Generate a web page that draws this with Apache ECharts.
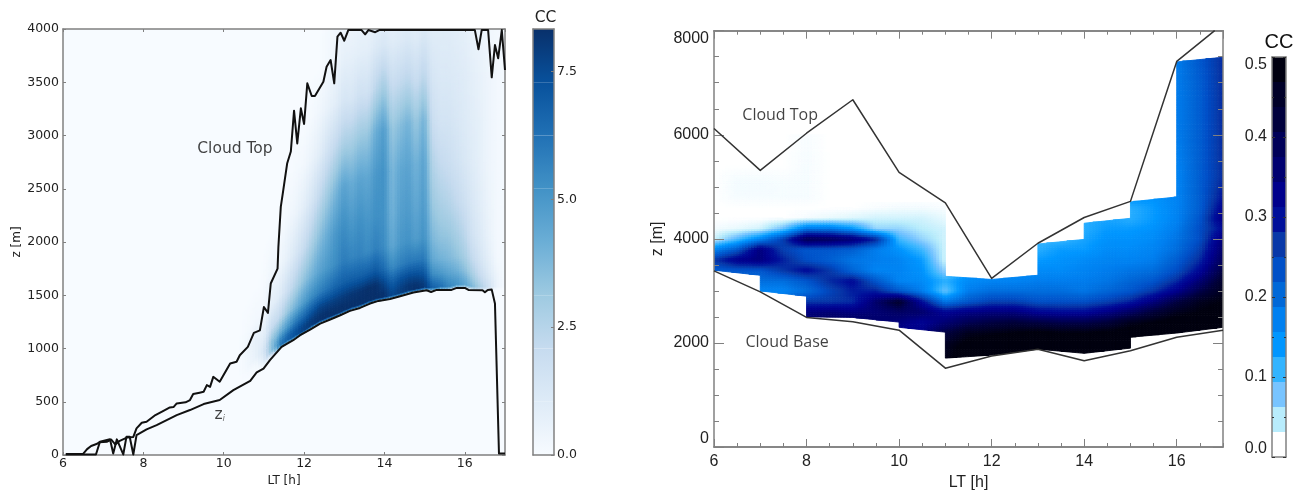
<!DOCTYPE html>
<html><head><meta charset="utf-8">
<style>html,body{margin:0;padding:0;background:#fff}#c{width:1302px;height:491px}</style>
<script src="https://cdn.jsdelivr.net/npm/echarts@6/dist/echarts.min.js"></script>
</head><body><div id="c"></div>
<script>
// ---------- left panel data ----------
const leftCloudTop=[[6.07,10],[6.5,10],[6.6,55],[6.7,85],[6.85,105],[6.9,120],[7.1,125],[7.2,145],[7.3,100],[7.4,130],[7.6,165],[7.75,170],[7.79,172],[7.83,250],[7.96,303],[8.08,312],[8.3,375],[8.5,415],[8.66,447],[8.75,450],[8.83,484],[9.05,495],[9.16,516],[9.24,572],[9.4,585],[9.5,594],[9.58,656],[9.66,640],[9.74,734],[9.9,688],[10.16,860],[10.32,875],[10.4,937],[10.6,1015],[10.75,1147],[10.9,1170],[11.0,1390],[11.1,1335],[11.17,1610],[11.34,1750],[11.36,1950],[11.42,2330],[11.47,2457],[11.58,2740],[11.67,2850],[11.75,3233],[11.83,2926],[11.92,3255],[12,3108],[12.08,3490],[12.19,3371],[12.27,3371],[12.48,3505],[12.56,3646],[12.66,3709],[12.75,3490],[12.83,3928],[12.91,3965],[13,3890],[13.1,3990],[13.43,3990],[13.52,3950],[13.6,3990],[13.77,3970],[13.87,3990],[16.25,3990],[16.34,3810],[16.42,3990],[16.58,3990],[16.67,3546],[16.75,3850],[16.83,3725],[16.92,3990],[17,3615]];
const leftZi=[[6.07,5],[6.82,5],[6.92,125],[7.17,147],[7.25,15],[7.34,147],[7.5,5],[7.58,172],[7.66,172],[7.75,5],[7.83,187],[8.08,240],[8.33,281],[8.58,328],[8.83,375],[9.16,422],[9.5,478],[9.9,516],[10.24,609],[10.66,697],[10.82,775],[10.99,812],[11.15,890],[11.44,1015],[11.73,1078],[11.9,1125],[12.15,1178],[12.4,1234],[12.65,1272],[12.9,1312],[13.14,1353],[13.39,1381],[13.64,1422],[13.85,1447],[14.14,1465],[14.39,1490],[14.72,1525],[15.05,1547],[15.16,1531],[15.3,1550],[15.67,1550],[15.8,1569],[16,1569],[16.09,1550],[16.44,1547],[16.5,1528],[16.57,1550],[16.67,1553],[16.75,1422],[16.85,15],[17,15]];
const leftTimes=[10.4,10.6,10.8,11,11.2,11.4,11.6,11.8,12,12.2,12.4,12.6,12.8,13,13.2,13.4,13.6,13.8,14,14.2,14.4,14.6,14.8,15,15.2,15.4,15.6,15.8,16,16.2,16.4,16.6,16.8,17];
const leftBase=[630,680,770,815,905,1000,1050,1095,1140,1190,1234,1265,1295,1330,1360,1383,1415,1440,1455,1470,1490,1515,1530,1545,1540,1550,1550,1569,1569,1550,1548,1550,1555,1555];
const leftOffsets=[0,30,80,160,300,500,800,1200,1600,2000,2400,2800];
const leftCC=[
[0,0,0,0,0,0,0,0,0,0,0,0],
[0,0,.05,.2,.3,.1,0,0,0,0,0,0],
[0,.05,.2,.6,.7,.2,0,0,0,0,0,0],
[.1,.3,.8,1.3,.8,.2,.05,0,0,0,0,0],
[.2,.5,3.5,3.5,2,.8,.3,0,0,0,0,0],
[2,6,5.5,4,2.2,1,.3,0,0,0,0,0],
[2,6.8,6.5,5,3.2,1.8,.7,.2,0,0,0,0],
[2,7.3,7.2,6,4,2.6,1.3,.4,.1,0,0,0],
[2,7.8,7.7,6.6,4.8,3.4,2,.8,.2,0,0,0],
[2,8,8,7.2,5.4,4,2.8,1.4,.5,.1,0,0],
[2,8.3,8.2,7.7,5.8,4.6,3.6,2.2,.9,.3,0,0],
[2,8.3,8.3,7.8,6.2,5,4.3,3,1.6,.6,.2,.1],
[2,8.3,8.3,7.9,6.6,5.4,5,3.8,2.2,.9,.4,.2],
[2,8.3,8.3,8,6.8,5.9,5.4,4.6,2.8,1.4,.7,.3],
[2,8.3,8.3,8.1,6.8,5.6,5,4.2,2.8,1.3,.7,.3],
[2,8.3,8.3,8.2,6.8,5.7,5.3,4.6,3.2,1.7,.8,.4],
[2,8.3,8.33,8.3,6.8,5.4,5,4.4,3.2,1.6,.8,.4],
[2,8.33,8.33,8.3,7,5.8,5.3,5,4.2,2.4,1.1,.5],
[2,8.3,8.2,7.7,6.4,5.4,5.2,5.2,4.8,3,1.3,.6],
[1.5,7.6,7.4,6.8,5.4,4.4,4,3.8,3.2,2,1,.5],
[1.5,7.9,7.8,7.3,5.8,5,4.7,4.4,3.6,2.2,1.1,.6],
[1.5,8.1,8.1,7.5,6,5.2,4.9,4.6,4,2.4,1.2,.7],
[1.5,8.3,8.2,7.5,6,4.8,4.4,4,3.2,1.9,1,.7],
[1.5,8.1,7.9,7.2,6,5.2,4.9,4.6,4,2.4,1.3,.8],
[1,6.8,6.4,5.4,4.4,3.8,3.2,2.6,1.9,1.4,1,.7],
[1,6.4,5.9,5,4,3.4,2.8,2.1,1.5,1.2,1,.7],
[1,5.6,5.3,4.6,3.8,3.3,2.6,1.9,1.5,1.2,1,.7],
[1,5.2,4.9,4.2,3.4,2.9,2.2,1.6,1.3,1.1,.9,.6],
[.8,4.6,4.3,3.6,2.9,2.4,1.8,1.3,1.1,1,.8,.5],
[.6,3.8,3.4,2.8,2.1,1.6,1.3,1,.9,.8,.6,.4],
[.5,2.8,2.4,1.9,1.4,1.1,.9,.7,.7,.6,.5,.3],
[.3,1.7,1.5,1.1,.8,.6,.5,.4,.4,.4,.3,.2],
[.1,.5,.5,.4,.2,.2,.2,.2,.2,.2,.2,.1],
[0,.1,.1,.1,.1,.1,.1,.1,.1,.1,.1,.05]];
const leftColorStops=['#f7fbff','#deebf7','#c6dbef','#9ecae1','#6baed6','#4292c6','#2171b5','#08519c','#08306b'];
const leftCCMax=8.33;
const leftBarTicks=[0,2.5,5,7.5];
// ---------- right panel data ----------
const rightCloudTop=[[6,6120],[7,5316],[8,6030],[9,6673],[10,5278],[11,4690],[12,3240],[13,3915],[14,4410],[15,4720],[16,7410],[16.82,8000]];
const rightCloudBase=[[6,3385],[7,2980],[8,2490],[9,2405],[10,2245],[11,1515],[12,1747],[13,1880],[14,1657],[15,1850],[16,2110],[17,2245]];
const rightHours=[6,6.5,7,7.5,8,8.5,9,9.5,10,10.5,11,11.5,12,12.5,13,13.5,14,14.5,15,15.5,16,16.5,17];
const rightLevels=[1600,1800,2000,2200,2400,2600,2800,3000,3200,3400,3600,3800,4000,4200,4400,4600,4800,5000,5200,5400,6000,7000,7600];
const rightCC=[
[.34,.34,.34,.34,.34,.34,.34,.34,.3,.32,.46,.5,.5,.5,.5,.5,.5,.5,.5,.5,.5,.5,.5],
[.34,.34,.34,.34,.34,.34,.34,.34,.3,.32,.45,.5,.5,.5,.5,.5,.5,.5,.5,.5,.5,.5,.5],
[.34,.34,.34,.34,.34,.34,.34,.34,.3,.32,.44,.48,.49,.5,.5,.5,.5,.5,.5,.5,.5,.5,.5],
[.34,.34,.34,.34,.34,.34,.34,.34,.31,.32,.4,.45,.46,.47,.48,.47,.47,.48,.49,.5,.5,.5,.5],
[.3,.3,.3,.3,.35,.37,.37,.35,.33,.3,.34,.38,.4,.41,.4,.39,.39,.41,.45,.47,.49,.5,.5],
[.2,.2,.2,.24,.33,.34,.33,.34,.36,.35,.3,.32,.33,.33,.3,.29,.29,.32,.36,.41,.45,.47,.49],
[.2,.2,.16,.2,.25,.25,.26,.35,.43,.29,.17,.21,.24,.24,.22,.22,.22,.24,.27,.33,.4,.45,.47],
[.2,.2,.15,.15,.18,.23,.27,.27,.21,.16,.07,.16,.18,.18,.18,.18,.17,.19,.21,.25,.31,.39,.45],
[.2,.2,.18,.18,.21,.26,.29,.21,.15,.14,.1,.14,.15,.15,.16,.16,.16,.17,.19,.21,.26,.34,.43],
[.2,.21,.21,.25,.29,.25,.19,.15,.15,.13,.05,.13,.14,.14,.14,.14,.15,.16,.17,.18,.22,.29,.4],
[.25,.31,.33,.27,.22,.2,.17,.16,.15,.12,.02,.1,.12,.12,.12,.13,.14,.15,.15,.16,.2,.26,.37],
[.15,.21,.33,.24,.21,.21,.2,.16,.13,.09,.02,.07,.09,.09,.1,.12,.12,.14,.14,.15,.18,.24,.35],
[.02,.08,.15,.24,.38,.37,.34,.27,.09,.05,.02,.08,.08,.08,.09,.09,.11,.13,.13,.14,.17,.22,.33],
[.005,.01,.02,.07,.17,.17,.13,.05,.05,.03,.02,.08,.09,.09,.09,.08,.1,.12,.12,.13,.16,.22,.29],
[0,0,0,0,.005,.01,.015,.02,.02,.02,.01,.1,.1,.1,.1,.1,.1,.11,.1,.12,.15,.21,.32],
[0,0,0,0,0,0,0,.003,.005,.005,.003,.1,.1,.1,.1,.1,.1,.1,.1,.12,.15,.2,.3],
[0,.004,.004,.004,.004,0,0,0,0,0,0,.1,.1,.1,.1,.1,.1,.1,.13,.13,.15,.2,.28],
[0,.005,.005,.004,.004,0,0,0,0,0,0,.1,.1,.1,.1,.1,.1,.1,.13,.14,.15,.2,.27],
[0,.004,.004,.003,.004,0,0,0,0,0,0,.1,.1,.1,.1,.1,.1,.1,.13,.14,.15,.2,.26],
[0,0,0,0,.004,0,0,0,0,0,0,.1,.1,.1,.1,.1,.1,.1,.13,.14,.15,.2,.26],
[0,0,0,0,.003,0,0,0,0,0,0,.1,.1,.1,.1,.1,.1,.1,.13,.15,.16,.2,.26],
[0,0,0,0,0,0,0,0,0,0,0,.1,.1,.1,.1,.1,.1,.1,.13,.15,.16,.2,.26],
[0,0,0,0,0,0,0,0,0,0,0,.1,.1,.1,.1,.1,.1,.1,.13,.15,.16,.21,.26]];
const rightSegHours=[6,7,8,9,10,11,12,13,14,15,16];
const rightSegBottom=[[3397,3300],[3000,2898],[2500,2490],[2490,2400],[2300,2207],[1708,1766],[1766,1880],[1880,1800],[1800,1900],[2110,2190],[2190,2300]];
const rightSegTop=[[6000,6000],[6000,6000],[6000,6000],[4700,4700],[4700,4700],[3280,3220],[3220,3300],[3900,3990],[4300,4395],[4710,4805],[7400,7490]];
const rightBandValues=[0,.03125,.0625,.09375,.125,.15625,.1875,.21875,.25,.28125,.3125,.34375,.375,.40625,.4375,.46875,.5];
const rightBandColors=['#ffffff','#b8ecfc','#78c4ff','#33b4ff','#0096ff','#0080f0','#0068d8','#0050c8','#0838a8','#000f9a','#00008c','#000070','#000058','#00003c','#000028','#000010'];
// ---------- annotations ----------
const leftNotes=[[10.28,2870,'Cloud Top'],[9.9,375,'z{s|i}']];
const rightNotes=[[7.43,6370,'Cloud Top'],[7.58,2015,'Cloud Base']];

function hex(c){return [parseInt(c.slice(1,3),16),parseInt(c.slice(3,5),16),parseInt(c.slice(5,7),16)];}
function ramp(vals,cols){const rgb=cols.map(hex);return v=>{
  if(v<=vals[0])return cols[0];const n=vals.length-1;if(v>=vals[n])return cols[n];
  let k=0;while(k<n-1&&v>vals[k+1])k++;const f=(v-vals[k])/(vals[k+1]-vals[k]);
  const c=rgb[k].map((a,m)=>Math.round(a+(rgb[k+1][m]-a)*f));return 'rgb('+c+')';};}
const leftColor=ramp(leftColorStops.map((_,i)=>i/8*leftCCMax),leftColorStops);
const rightColor=ramp(rightBandValues.slice(0,16),rightBandColors);

function poly(pts,col,w){return {type:'polygon',shape:{points:pts},style:{fill:col,stroke:col,lineWidth:w},silent:true};}

function renderLeft(params,api){
  const i=api.value(3),j=api.value(4),kids=[];
  const t0=leftTimes[i],t1=leftTimes[i+1],O=leftOffsets,B=leftBase,V=leftCC;
  const h=Math.abs(api.size([0,O[j+1]-O[j]])[1]);
  const nx=3,ny=Math.max(1,Math.ceil(h/2.5));
  for(let a=0;a<nx;a++)for(let b=0;b<ny;b++){
    const ua=a/nx,ub=(a+1)/nx,wa=b/ny,wb=(b+1)/ny,um=(ua+ub)/2,wm=(wa+wb)/2;
    const ta=t0+(t1-t0)*ua,tb=t0+(t1-t0)*ub;
    const ba=B[i]+(B[i+1]-B[i])*ua,bb=B[i]+(B[i+1]-B[i])*ub;
    const oa=O[j]+(O[j+1]-O[j])*wa,ob=O[j]+(O[j+1]-O[j])*wb;
    const v=(1-um)*(1-wm)*V[i][j]+um*(1-wm)*V[i+1][j]+(1-um)*wm*V[i][j+1]+um*wm*V[i+1][j+1];
    if(v<=0.02)continue;
    kids.push(poly([api.coord([ta,ba+oa]),api.coord([tb,bb+oa]),api.coord([tb,bb+ob]),api.coord([ta,ba+ob])],leftColor(v),1));
  }
  return {type:'group',children:kids};
}
function renderRight(params,api){
  const i=api.value(3),j=api.value(4),kids=[];
  const X=rightHours,Z=rightLevels,V=rightCC;
  const x0=X[i],x1=X[i+1],z0=Z[j],z1=Z[j+1];
  const s=rightSegHours.indexOf(Math.floor(x0));
  const bot=x=>rightSegBottom[s][0]+(rightSegBottom[s][1]-rightSegBottom[s][0])*(x-rightSegHours[s]);
  const top=x=>rightSegTop[s][0]+(rightSegTop[s][1]-rightSegTop[s][0])*(x-rightSegHours[s]);
  const h=Math.abs(api.size([0,z1-z0])[1]);
  const nx=8,ny=Math.max(1,Math.ceil(h/2.5));
  for(let a=0;a<nx;a++)for(let b=0;b<ny;b++){
    const ua=a/nx,ub=(a+1)/nx,wa=b/ny,wb=(b+1)/ny,um=(ua+ub)/2,wm=(wa+wb)/2;
    const xa=x0+(x1-x0)*ua,xb=x0+(x1-x0)*ub,za=z0+(z1-z0)*wa,zb=z0+(z1-z0)*wb;
    const la=Math.max(za,bot(xa)),lb=Math.max(za,bot(xb)),ha=Math.min(zb,top(xa)),hb=Math.min(zb,top(xb));
    if(ha<=la&&hb<=lb)continue;
    const v=(1-um)*(1-wm)*V[j][i]+um*(1-wm)*V[j][i+1]+(1-um)*wm*V[j+1][i]+um*wm*V[j+1][i+1];
    const col=rightColor(v);
    if(col==='#ffffff')continue;
    kids.push(poly([api.coord([xa,la]),api.coord([xb,lb]),api.coord([xb,Math.max(hb,lb)]),api.coord([xa,Math.max(ha,la)])],col,.9));
  }
  return {type:'group',children:kids};
}
const leftCells=[];
for(let i=0;i<leftTimes.length-1;i++)for(let j=0;j<leftOffsets.length-1;j++)
  leftCells.push([leftTimes[i],leftBase[i]+leftOffsets[j],leftCC[i][j],i,j]);
const rightCells=[];
for(let i=0;i<rightHours.length-1;i++)for(let j=0;j<rightLevels.length-1;j++)
  rightCells.push([rightHours[i],rightLevels[j],rightCC[j][i],i,j]);

const leftBarCells=leftColorStops.slice(0,-1).map((c,i)=>[i/8*leftCCMax,(i+1)/8*leftCCMax,c,leftColorStops[i+1]]);
const rightBarCells=rightBandColors.map((c,i)=>[rightBandValues[i],rightBandValues[i+1],c]);

const G='#808080',LF='DejaVu Sans',RF='Liberation Sans',INK='#222';
const plain=v=>String(v);
function ax(o){return Object.assign({type:'value',splitLine:{show:false},axisLine:{show:true,onZero:false,lineStyle:{color:G,width:1.5}},axisTick:{show:true,inside:true,length:3,lineStyle:{color:G,width:1}},axisLabel:{show:false},z:6},o);}
const lbl=(f,s,m)=>({show:true,fontFamily:f,fontSize:s,color:INK,margin:m,formatter:plain});

const xAxis=[
 ax({gridIndex:0,min:6,max:17,interval:2,position:'bottom',axisLabel:Object.assign(lbl(LF,12.5,2),{showMaxLabel:false}),name:'LT [h]',nameLocation:'middle',nameGap:16,nameTextStyle:{fontFamily:LF,fontSize:12,color:INK}}),
 ax({gridIndex:0,min:6,max:17,interval:2,position:'top'}),
 ax({gridIndex:1,min:6,max:17,interval:2,position:'bottom',axisTick:{show:true,inside:true,length:8,lineStyle:{color:G}},axisLabel:Object.assign(lbl(RF,16,7),{showMaxLabel:false}),name:'LT [h]',nameLocation:'middle',nameGap:24,nameTextStyle:{fontFamily:RF,fontSize:16,color:INK}}),
 ax({gridIndex:1,min:6,max:17,interval:.5,position:'bottom',axisTick:{show:true,inside:true,length:4,lineStyle:{color:G}}}),
 ax({gridIndex:1,min:6,max:17,interval:2,position:'top',axisTick:{show:true,inside:true,length:8,lineStyle:{color:G}}}),
 ax({gridIndex:1,min:6,max:17,interval:.5,position:'top',axisTick:{show:true,inside:true,length:4,lineStyle:{color:G}}}),
 ax({gridIndex:2,min:0,max:1,position:'top',axisTick:{show:false},name:'CC',nameLocation:'middle',nameGap:3,nameTextStyle:{fontFamily:LF,fontSize:15.5,color:INK,padding:[0,0,0,4]}}),
 ax({gridIndex:2,min:0,max:1,position:'bottom',axisTick:{show:false}}),
 ax({gridIndex:3,min:0,max:1,position:'top',axisTick:{show:false},name:'CC',nameLocation:'middle',nameGap:5,nameTextStyle:{fontFamily:RF,fontSize:20,color:'#111'}}),
 ax({gridIndex:3,min:0,max:1,position:'bottom',axisTick:{show:false}})
];
const yAxis=[
 ax({gridIndex:0,min:0,max:4000,interval:500,position:'left',axisLabel:lbl(LF,12.5,4),name:'z [m]',nameLocation:'middle',nameGap:40,nameTextStyle:{fontFamily:LF,fontSize:12,color:INK}}),
 ax({gridIndex:0,min:0,max:4000,interval:500,position:'right'}),
 ax({gridIndex:1,min:0,max:8000,interval:2000,position:'left',axisTick:{show:true,inside:true,length:10,lineStyle:{color:G}},minorTick:{show:true,splitNumber:4,length:5,lineStyle:{color:G}},axisLabel:Object.assign(lbl(RF,16,5),{verticalAlignMaxLabel:'top',verticalAlignMinLabel:'bottom'}),name:'z [m]',nameLocation:'middle',nameGap:48,nameTextStyle:{fontFamily:RF,fontSize:16,color:INK}}),
 ax({gridIndex:1,min:0,max:8000,interval:2000,position:'right',axisTick:{show:true,inside:true,length:10,lineStyle:{color:G}},minorTick:{show:true,splitNumber:4,length:5,lineStyle:{color:G}}}),
 ax({gridIndex:2,min:0,max:leftCCMax,position:'right',axisTick:{show:true,inside:true,length:3,customValues:leftBarTicks,lineStyle:{color:G}},axisLabel:Object.assign(lbl(LF,12.5,3),{customValues:leftBarTicks,formatter:v=>v.toFixed(1)})}),
 ax({gridIndex:2,min:0,max:leftCCMax,position:'left',axisTick:{show:false}}),
 ax({gridIndex:3,min:0,max:.5,interval:.1,position:'left',axisTick:{show:true,inside:true,length:3,lineStyle:{color:'#333'}},minorTick:{show:true,splitNumber:2,length:2,lineStyle:{color:'#333'}},axisLabel:Object.assign(lbl(RF,16,5),{formatter:v=>v.toFixed(1),verticalAlignMaxLabel:'top',verticalAlignMinLabel:'bottom'})}),
 ax({gridIndex:3,min:0,max:.5,interval:.1,position:'right',axisTick:{show:true,inside:true,length:3,lineStyle:{color:'#333'}},minorTick:{show:true,splitNumber:2,length:2,lineStyle:{color:'#333'}}})
];
const lineS=(name,x,y,data,w,c)=>({name,type:'line',xAxisIndex:x,yAxisIndex:y,data,showSymbol:false,symbol:'none',clip:false,z:8,silent:true,lineStyle:{color:c,width:w,join:'round'}});
const noteS=(x,y,data,fam,size)=>({type:'scatter',xAxisIndex:x,yAxisIndex:y,data,symbolSize:1,itemStyle:{color:'rgba(0,0,0,0)'},z:9,silent:true,
  label:{show:true,position:'inside',fontFamily:fam,fontSize:size,color:'#111',formatter:p=>p.data[2],rich:{s:{fontFamily:fam,fontSize:9,fontStyle:'italic',color:'#555',verticalAlign:'bottom',padding:[6,0,0,0]}}}});

const option={animation:false,backgroundColor:'#ffffff',tooltip:{show:false},
 grid:[
  {left:63,top:29,width:442,height:426,show:true,backgroundColor:'#f7fbff',borderWidth:0,outerBoundsMode:'none'},
  {left:714,top:30.7,width:509,height:416.3,show:true,backgroundColor:'#ffffff',borderWidth:0,outerBoundsMode:'none'},
  {left:533,top:29,width:21,height:426,outerBoundsMode:'none'},
  {left:1272,top:57,width:14,height:400,outerBoundsMode:'none'}
 ],
 xAxis,yAxis,
 series:[
  {type:'custom',name:'left CC',xAxisIndex:0,yAxisIndex:0,data:leftCells,renderItem:renderLeft,clip:true,z:2,silent:true,encode:{x:0,y:1}},
  {type:'custom',name:'right CC',xAxisIndex:2,yAxisIndex:2,data:rightCells,renderItem:renderRight,clip:true,z:2,silent:true,encode:{x:0,y:1}},
  {type:'custom',name:'left bar',xAxisIndex:6,yAxisIndex:4,data:leftBarCells,z:2,silent:true,encode:{y:[0,1]},renderItem:(p,api)=>{
     const c=leftBarCells[p.dataIndex],a=api.coord([0,c[0]]),b=api.coord([1,c[1]]);
     return {type:'rect',shape:{x:a[0],y:b[1],width:b[0]-a[0],height:a[1]-b[1]},style:{stroke:null,fill:new echarts.graphic.LinearGradient(0,1,0,0,[{offset:0,color:c[2]},{offset:1,color:c[3]}])}};}},
  {type:'custom',name:'right bar',xAxisIndex:8,yAxisIndex:6,data:rightBarCells,z:2,silent:true,encode:{y:[0,1]},renderItem:(p,api)=>{
     const c=rightBarCells[p.dataIndex],a=api.coord([0,c[0]]),b=api.coord([1,c[1]]);
     return {type:'rect',shape:{x:a[0],y:b[1],width:b[0]-a[0],height:a[1]-b[1]},style:{fill:c[2],stroke:null}};}},
  lineS('Cloud Top',0,0,leftCloudTop,2,'#111'),
  lineS('zi',0,0,leftZi,2,'#111'),
  lineS('Cloud Top',2,2,rightCloudTop,1.5,'#333'),
  lineS('Cloud Base',2,2,rightCloudBase,1.5,'#333'),
  noteS(0,0,leftNotes,LF,15.5),
  noteS(2,2,rightNotes,'Open Sans',16)
 ]};
const chart=echarts.init(document.getElementById('c'),null,{renderer:'canvas'});
chart.setOption(option);
</script></body></html>
